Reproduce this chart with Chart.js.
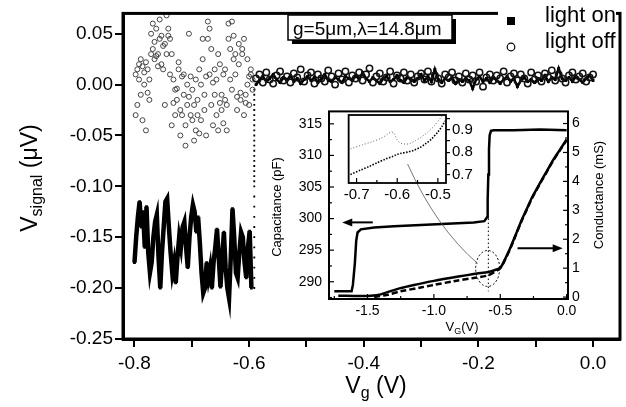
<!DOCTYPE html>
<html>
<head>
<meta charset="utf-8">
<script src="https://cdn.jsdelivr.net/npm/chart.js@4.4.1/dist/chart.umd.min.js"></script>
<style>
  body { margin: 0; background: #fff; }
  #wrap { position: relative; width: 626px; height: 407px; }
  canvas { position: absolute; }
</style>
</head>
<body>
<div id="wrap">
  <canvas id="main" width="626" height="407" style="left:0;top:0"></canvas>
  <canvas id="inset" width="352" height="242" style="left:262px;top:96px"></canvas>
  <canvas id="nest" width="145" height="100" style="left:340px;top:104px"></canvas>
</div>
<script>
// ---- main panel: V_signal vs V_g ----
// light on, below threshold (sampled every 3 mV from -0.800 V)
const onLeftStart = -0.800, onLeftStep = 0.003;
const onLeftY = [
  -0.175,-0.150,-0.130,-0.115,-0.140,-0.125,-0.160,-0.120,-0.165,-0.185,
  -0.175,-0.150,-0.135,-0.128,-0.170,-0.200,-0.165,-0.140,-0.115,-0.112,
  -0.140,-0.165,-0.185,-0.175,-0.195,-0.170,-0.150,-0.160,-0.140,-0.135,
  -0.160,-0.180,-0.150,-0.130,-0.118,-0.125,-0.145,-0.130,-0.155,-0.185,
  -0.205,-0.200,-0.175,-0.190,-0.180,-0.200,-0.175,-0.160,-0.142,-0.170,
  -0.199,-0.170,-0.145,-0.180,-0.200,-0.210,-0.170,-0.122,-0.150,-0.185,
  -0.190,-0.165,-0.145,-0.150,-0.175,-0.190,-0.160,-0.144,-0.200
];
// jump at threshold
const jumpX = -0.591;
const jumpY = [-0.200,-0.190,-0.180,-0.170,-0.160,-0.150,-0.140,-0.130,-0.120,-0.110,
  -0.100,-0.095,-0.090,-0.085,-0.080,-0.075,-0.070,-0.065,-0.060,-0.055,
  -0.050,-0.045,-0.040,-0.035,-0.030,-0.025,-0.020,-0.015,-0.010,-0.005];
// light off, below threshold: two readings per gate step
const offLeftStart = -0.798, offLeftStep = 0.003;
const offLeftA = [
  -0.030, 0.015, 0.020,-0.010, 0.018, 0.000,-0.045,-0.008, 0.005, 0.050,
   0.060, 0.042, 0.055, 0.018, 0.064, 0.048, 0.038, 0.040, 0.068, 0.055,
   0.045,-0.040, 0.005,-0.005,-0.015, 0.022,-0.050,-0.030, 0.010,-0.060,
   0.000, 0.050,-0.030,-0.005,-0.055, 0.005,-0.015, 0.015,-0.035, 0.045,
  -0.010, 0.008, 0.062, 0.055,-0.020, 0.002, 0.015, 0.005,-0.045,-0.018,
  -0.025, 0.010,-0.015,-0.020, 0.060, 0.035, 0.062, 0.025, 0.010,-0.012,
   0.040,-0.008, 0.030,-0.030,-0.018, 0.025, 0.008, 0.010, 0.005
];
const offLeftB = [
   0.010,-0.020, 0.005, 0.025,-0.035, 0.012, 0.022, 0.015,-0.015, 0.030,
   0.035, 0.025, 0.028, 0.030, 0.045, 0.020, 0.015,-0.020, 0.030, 0.048,
   0.010, 0.030,-0.018,-0.030,-0.004, 0.015,-0.025, 0.008,-0.010,-0.040,
  -0.020,-0.012, 0.008,-0.035,-0.020,-0.045,-0.030,-0.048, 0.000, 0.025,
  -0.025,-0.050, 0.045, 0.010, 0.035,-0.040,-0.010,-0.030, 0.030, 0.020,
  -0.010,-0.038, 0.015,-0.045, 0.045, 0.005,-0.005, 0.048, 0.030,-0.025,
   0.020,-0.015, 0.035, 0.045,-0.010, 0.000,-0.020, 0.015,-0.005
];
// above threshold, both nearly zero (every 6 mV from -0.588 V)
const rightStart = -0.588, rightStep = 0.006;
const onRightY = [
  0.000, 0.004, 0.008, 0.003, 0.006, 0.010, 0.005, 0.002, 0.007, 0.004,
  0.009, 0.003, 0.006, 0.001, 0.005, 0.008, 0.004, 0.007, 0.002, 0.006,
  0.010, 0.004, 0.003, 0.007, 0.005, 0.002, 0.008, 0.006, 0.004, 0.009,
  0.005, 0.012, 0.006, 0.003, 0.007, 0.004, 0.001, 0.006, 0.008, 0.003,
  0.005, 0.009, 0.004, 0.002, 0.007, 0.005, 0.003, 0.006, 0.010, 0.004,
  0.008, 0.003, 0.015, 0.005, 0.002, 0.006, 0.004, 0.007, 0.001, 0.005,
  0.003, 0.006, 0.004,-0.004, 0.005, 0.008, 0.003, 0.006, 0.002, 0.007,
  0.004, 0.001, 0.005, 0.008, 0.003, 0.006,-0.002, 0.004, 0.007, 0.003,
  0.005, 0.002, 0.006, 0.004, 0.009, 0.003, 0.007, 0.005, 0.016, 0.006,
  0.004, 0.007, 0.003, 0.008, 0.005, 0.002, 0.006, 0.009, 0.004
];
const offRightY = [
  0.006, 0.010, 0.002, 0.012, 0.005, 0.001, 0.009, 0.013, 0.004, 0.008,
  0.002, 0.011, 0.007, 0.015, 0.003, 0.009, 0.012, 0.001, 0.010, 0.006,
  0.003, 0.014, 0.008, 0.000, 0.011, 0.005, 0.013, 0.002, 0.009, 0.006,
  0.012, 0.004, 0.010, 0.016, 0.002, 0.008, 0.011, 0.003, 0.007, 0.013,
  0.001, 0.009, 0.006, 0.012, 0.004, 0.010, 0.002, 0.008, 0.011, 0.005,
  0.013, 0.003, 0.009, 0.006, 0.001, 0.010, 0.007, 0.012, 0.004, 0.008,
  0.002, 0.011, 0.005, 0.009, 0.003, 0.012,-0.002, 0.007, 0.010, 0.004,
  0.009, 0.006, 0.013, 0.002, 0.008, 0.011, 0.004, 0.010, 0.006, 0.001,
  0.012, 0.005, 0.009, 0.003, 0.011, 0.007, 0.014, 0.004, 0.010, 0.006,
  0.002, 0.009, 0.012, 0.005, 0.008, 0.011, 0.003, 0.007, 0.010
];

// ---- inset: C-V and G-V ----
const capX = [-1.75,-1.62,-1.61,-1.595,-1.585,-1.575,-1.55,-1.45,-1.3,-1.1,-0.9,-0.7,-0.62,-0.6,-0.595,-0.59,-0.585,-0.58,-0.57,-0.55,-0.4,-0.2,0.0];
const capY = [288.5,288.5,289.5,293,296.5,297.8,298.3,298.6,298.8,299.0,299.2,299.4,299.6,300.2,303,307,311,313.2,313.9,314.0,314.0,314.1,314.0];
const condX = [-1.72,-1.6,-1.5,-1.42,-1.35,-1.26,-1.15,-1.0,-0.88,-0.75,-0.65,-0.6,-0.55,-0.5,-0.46,-0.42,-0.38,-0.34,-0.3,-0.26,-0.2,-0.15,-0.1,-0.05,0.0];
const condY = [0.05,0.04,0.04,0.07,0.17,0.3,0.42,0.56,0.66,0.76,0.83,0.86,0.92,1.02,1.35,1.75,2.2,2.65,3.05,3.45,3.95,4.35,4.75,5.1,5.45];
const condDashX = [-1.45,-1.35,-1.25,-1.1,-1.0,-0.85,-0.7,-0.6,-0.55,-0.5,-0.46,-0.42,-0.38,-0.34,-0.3,-0.26,-0.2,-0.15,-0.1,-0.05,0.0];
const condDashY = [0.0,0.08,0.2,0.33,0.42,0.55,0.66,0.74,0.85,1.0,1.33,1.73,2.18,2.63,3.03,3.43,3.93,4.33,4.73,5.08,5.43];

// ---- zoom of the kink near -0.6 V ----
const kinkUpX = [-0.715,-0.69,-0.66,-0.64,-0.625,-0.615,-0.608,-0.6,-0.592,-0.58,-0.57,-0.555,-0.54,-0.525,-0.51,-0.497,-0.488];
const kinkUpY = [0.815,0.83,0.848,0.862,0.878,0.89,0.885,0.855,0.84,0.836,0.838,0.852,0.868,0.89,0.915,0.945,0.965];
const kinkLowX = [-0.715,-0.69,-0.67,-0.65,-0.63,-0.61,-0.6,-0.59,-0.575,-0.56,-0.545,-0.53,-0.515,-0.5,-0.49,-0.482];
const kinkLowY = [0.7,0.72,0.735,0.752,0.768,0.782,0.79,0.795,0.8,0.808,0.82,0.838,0.86,0.89,0.915,0.94];

const FONT = '"Liberation Sans", Arial, sans-serif';
Chart.defaults.font.family = FONT;
Chart.defaults.color = '#000';

const pts = (xs, ys) => xs.map((x, i) => ({ x: x, y: ys[i] }));
const grid = (start, step, n) => Array.from({ length: n }, (_, i) => +(start + i * step).toFixed(4));

// text with subscript parts, centred on (cx, baseline cy)
function richText(ctx, cx, cy, angle, parts) {
  ctx.save();
  ctx.translate(cx, cy);
  ctx.rotate(angle);
  let w = 0;
  parts.forEach(p => { ctx.font = p.size + 'px ' + FONT; p.w = ctx.measureText(p.t).width; w += p.w; });
  let x = -w / 2;
  ctx.fillStyle = '#000';
  ctx.textAlign = 'left';
  ctx.textBaseline = 'alphabetic';
  parts.forEach(p => { ctx.font = p.size + 'px ' + FONT; ctx.fillText(p.t, x, p.dy || 0); x += p.w; });
  ctx.restore();
}

function arrow(ctx, x1, y1, x2, y2) {
  const a = Math.atan2(y2 - y1, x2 - x1);
  ctx.beginPath();
  ctx.moveTo(x1, y1);
  ctx.lineTo(x2 - 8 * Math.cos(a), y2 - 8 * Math.sin(a));
  ctx.stroke();
  ctx.beginPath();
  ctx.moveTo(x2, y2);
  ctx.lineTo(x2 - 10 * Math.cos(a) + 4 * Math.sin(a), y2 - 10 * Math.sin(a) - 4 * Math.cos(a));
  ctx.lineTo(x2 - 10 * Math.cos(a) - 4 * Math.sin(a), y2 - 10 * Math.sin(a) + 4 * Math.cos(a));
  ctx.closePath();
  ctx.fill();
}

function inwardTicks(chart, ids) {
  const ctx = chart.ctx, a = chart.chartArea;
  ctx.save();
  ctx.strokeStyle = '#000';
  ctx.lineWidth = 1.2;
  ids.forEach(id => {
    const s = chart.scales[id];
    s.ticks.forEach(t => {
      const p = s.getPixelForValue(t.value);
      const len = t.label === '' ? 3 : 5;
      ctx.beginPath();
      if (s.position === 'left') { ctx.moveTo(a.left, p); ctx.lineTo(a.left + len, p); }
      else if (s.position === 'right') { ctx.moveTo(a.right, p); ctx.lineTo(a.right - len, p); }
      else { ctx.moveTo(p, a.bottom); ctx.lineTo(p, a.bottom - len); }
      ctx.stroke();
    });
  });
  ctx.restore();
}

// frame, titles, text box and legend of the main panel
const mainDecor = {
  id: 'mainDecor',
  afterDraw(chart) {
    const ctx = chart.ctx, a = chart.chartArea;
    ctx.save();
    ctx.strokeStyle = '#000';
    ctx.lineWidth = 3;
    ctx.strokeRect(a.left, a.top, a.right - a.left, a.bottom - a.top);

    richText(ctx, 376, 393, 0, [{ t: 'V', size: 23 }, { t: 'g', size: 16, dy: 5 }, { t: ' (V)', size: 23 }]);
    richText(ctx, 37, 178, -Math.PI / 2, [{ t: 'V', size: 23 }, { t: 'signal', size: 16, dy: 5 }, { t: ' (\u03bcV)', size: 23 }]);

    // parameter box with drop shadow
    ctx.fillStyle = '#000';
    ctx.fillRect(292, 19, 164, 25);
    ctx.fillStyle = '#fff';
    ctx.fillRect(288, 15, 164, 25);
    ctx.lineWidth = 1.5;
    ctx.strokeRect(288, 15, 164, 25);
    ctx.fillStyle = '#000';
    ctx.font = '19px ' + FONT;
    ctx.textAlign = 'left';
    ctx.textBaseline = 'alphabetic';
    ctx.fillText('g=5\u03bcm,\u03bb=14.8\u03bcm', 293, 35);

    // legend
    ctx.fillStyle = '#fff';
    ctx.fillRect(498, 2, 118, 52);
    ctx.fillStyle = '#000';
    ctx.fillRect(507, 17, 8, 8);
    ctx.beginPath();
    ctx.arc(511, 47, 3.8, 0, Math.PI * 2);
    ctx.lineWidth = 1.2;
    ctx.stroke();
    ctx.font = '22px ' + FONT;
    ctx.fillText('light on', 545, 22);
    ctx.fillText('light off', 545, 48);
    ctx.restore();
  }
};

new Chart(document.getElementById('main'), {
  type: 'scatter',
  data: {
    datasets: [
      { data: pts(grid(offLeftStart, offLeftStep, offLeftA.length), offLeftA), pointStyle: 'circle', pointRadius: 2.5, borderWidth: 1, borderColor: '#444', backgroundColor: 'rgba(0,0,0,0)' },
      { data: pts(grid(offLeftStart, offLeftStep, offLeftB.length), offLeftB), pointStyle: 'circle', pointRadius: 2.5, borderWidth: 1, borderColor: '#444', backgroundColor: 'rgba(0,0,0,0)' },
      { data: pts(grid(rightStart, rightStep, offRightY.length), offRightY), pointStyle: 'circle', pointRadius: 3.2, borderWidth: 1.5, borderColor: '#111', backgroundColor: 'rgba(0,0,0,0)' },
      { data: pts(grid(onLeftStart, onLeftStep, onLeftY.length), onLeftY), showLine: true, borderColor: '#000', borderWidth: 4.5, pointStyle: 'rect', pointRadius: 2, backgroundColor: '#000', pointBorderWidth: 0 },
      { data: pts(jumpY.map(() => jumpX), jumpY), pointStyle: 'rect', pointRadius: 1.3, backgroundColor: '#000', borderWidth: 0 },
      { data: pts(grid(rightStart, rightStep, onRightY.length), onRightY), showLine: true, borderColor: '#000', borderWidth: 2.5, pointStyle: 'rect', pointRadius: 2, backgroundColor: '#000', pointBorderWidth: 0 }
    ]
  },
  options: {
    responsive: false,
    animation: false,
    layout: { padding: { top: 8, right: 6, left: 0, bottom: 0 } },
    plugins: { legend: { display: false }, tooltip: { enabled: false } },
    scales: {
      x: {
        type: 'linear', min: -0.82, max: 0.047,
        afterFit: s => { s.height = 68; },
        border: { color: '#000', width: 3 },
        grid: { drawOnChartArea: false, color: '#000', tickLength: 8, lineWidth: 2 },
        ticks: {
          stepSize: 0.1, autoSkip: false, maxRotation: 0, includeBounds: false, padding: 5,
          font: { size: 19 },
          callback: v => { const r = Math.round(v * 10); return r % 2 === 0 ? (r / 10).toFixed(1) : ''; }
        }
      },
      y: {
        type: 'linear', min: -0.2501, max: 0.07,
        afterFit: s => { s.width = 123; },
        border: { color: '#000', width: 3 },
        grid: { drawOnChartArea: false, color: '#000', tickLength: 8, lineWidth: 2 },
        ticks: {
          stepSize: 0.05, autoSkip: false, includeBounds: false, padding: 2,
          font: { size: 19 },
          callback: v => Math.abs(v) < 1e-9 ? '0.00' : v.toFixed(2)
        }
      }
    }
  },
  plugins: [mainDecor]
});

// inset decorations: frame, inward ticks, titles, arrows, circled kink
const insetDecor = {
  id: 'insetDecor',
  afterDraw(chart) {
    const ctx = chart.ctx, a = chart.chartArea;
    const sx = chart.scales.x, sc = chart.scales.yC, sg = chart.scales.yG;
    ctx.save();
    ctx.strokeStyle = '#000';
    ctx.fillStyle = '#000';
    ctx.lineWidth = 2;
    ctx.strokeRect(a.left, a.top, a.right - a.left, a.bottom - a.top);
    inwardTicks(chart, ['x', 'yC', 'yG']);

    richText(ctx, 19, 111, -Math.PI / 2, [{ t: 'Capacitance (pF)', size: 13 }]);
    richText(ctx, 341, 99, -Math.PI / 2, [{ t: 'Conductance (mS)', size: 13 }]);
    richText(ctx, 200, 235, 0, [{ t: 'V', size: 13 }, { t: 'G', size: 9, dy: 3 }, { t: '(V)', size: 13 }]);

    ctx.lineWidth = 2;
    arrow(ctx, sx.getPixelForValue(-1.46), sc.getPixelForValue(299.4), sx.getPixelForValue(-1.69), sc.getPixelForValue(299.4));
    arrow(ctx, sx.getPixelForValue(-0.37), sg.getPixelForValue(1.69), sx.getPixelForValue(-0.03), sg.getPixelForValue(1.69));

    // dotted marker at the threshold
    ctx.lineWidth = 1;
    ctx.setLineDash([1.5, 2.5]);
    ctx.beginPath();
    ctx.moveTo(sx.getPixelForValue(-0.59), sc.getPixelForValue(300));
    ctx.lineTo(sx.getPixelForValue(-0.59), sg.getPixelForValue(0.2));
    ctx.stroke();
    ctx.setLineDash([2, 2]);
    ctx.beginPath();
    ctx.ellipse(sx.getPixelForValue(-0.595), sg.getPixelForValue(0.99), 12, 18, 0, 0, Math.PI * 2);
    ctx.stroke();

    // leader towards the zoomed panel
    ctx.setLineDash([]);
    ctx.lineWidth = 0.8;
    ctx.strokeStyle = '#555';
    ctx.beginPath();
    ctx.moveTo(sx.getPixelForValue(-1.198), sg.getPixelForValue(4.6));
    ctx.quadraticCurveTo(sx.getPixelForValue(-0.98), sg.getPixelForValue(2.38), sx.getPixelForValue(-0.67), sg.getPixelForValue(1.16));
    ctx.stroke();
    ctx.restore();
  }
};

new Chart(document.getElementById('inset'), {
  type: 'scatter',
  data: {
    datasets: [
      { data: pts(capX, capY), yAxisID: 'yC', showLine: true, borderColor: '#000', borderWidth: 2.5, pointRadius: 0 },
      { data: pts(condDashX, condDashY), yAxisID: 'yG', showLine: true, borderColor: '#000', borderWidth: 2.5, borderDash: [6, 3], pointRadius: 0, tension: 0.3 },
      { data: pts(condX, condY), yAxisID: 'yG', showLine: true, borderColor: '#000', borderWidth: 2.5, pointRadius: 0, tension: 0.3 }
    ]
  },
  options: {
    responsive: false,
    animation: false,
    layout: { padding: { top: 7, right: 0, left: 0, bottom: 0 } },
    plugins: { legend: { display: false }, tooltip: { enabled: false } },
    scales: {
      x: {
        type: 'linear', min: -1.79, max: 0.01,
        afterFit: s => { s.height = 39; },
        border: { display: false },
        grid: { display: false, drawTicks: false },
        ticks: {
          stepSize: 0.25, autoSkip: false, maxRotation: 0, includeBounds: false, padding: 4,
          font: { size: 14 },
          callback: v => { const r = Math.round(v * 4); return r % 2 === 0 ? (r / 4).toFixed(1) : ''; }
        }
      },
      yC: {
        type: 'linear', position: 'left', min: 287.27, max: 316.97,
        afterFit: s => { s.width = 67; },
        border: { display: false },
        grid: { display: false, drawTicks: false },
        ticks: {
          stepSize: 2.5, autoSkip: false, includeBounds: false, padding: 7,
          font: { size: 14 },
          callback: v => { const r = Math.round(v * 2); return r % 10 === 0 ? String(r / 2) : ''; }
        }
      },
      yG: {
        type: 'linear', position: 'right', min: -0.066, max: 6.42,
        afterFit: s => { s.width = 46; },
        border: { display: false },
        grid: { display: false, drawTicks: false },
        ticks: {
          stepSize: 0.5, autoSkip: false, includeBounds: false, padding: 4,
          font: { size: 14 },
          callback: v => { const r = Math.round(v * 2); return r % 2 === 0 ? String(r / 2) : ''; }
        }
      }
    }
  },
  plugins: [insetDecor]
});

const nestDecor = {
  id: 'nestDecor',
  afterDraw(chart) {
    const ctx = chart.ctx, a = chart.chartArea;
    ctx.save();
    ctx.strokeStyle = '#000';
    ctx.lineWidth = 1.8;
    ctx.strokeRect(a.left, a.top, a.right - a.left, a.bottom - a.top);
    ctx.restore();
    inwardTicks(chart, ['x']);
  }
};

new Chart(document.getElementById('nest'), {
  type: 'scatter',
  data: {
    datasets: [
      { data: pts(kinkUpX, kinkUpY), showLine: true, borderColor: '#666', borderWidth: 1, borderDash: [1, 2], pointRadius: 0, tension: 0.3 },
      { data: pts(kinkLowX, kinkLowY), showLine: true, borderColor: '#000', borderWidth: 1.6, borderDash: [1.5, 1.5], pointRadius: 0, tension: 0.3 }
    ]
  },
  options: {
    responsive: false,
    animation: false,
    layout: { padding: { top: 4, right: 0, left: 8, bottom: 0 } },
    plugins: { legend: { display: false }, tooltip: { enabled: false } },
    scales: {
      x: {
        type: 'linear', min: -0.7195, max: -0.48,
        afterFit: s => { s.height = 21; },
        border: { display: false },
        grid: { display: false, drawTicks: false },
        ticks: {
          stepSize: 0.05, autoSkip: false, maxRotation: 0, includeBounds: false, padding: 3,
          font: { size: 15 },
          callback: v => { const r = Math.round(v * 20); return r % 2 === 0 ? (r / 20).toFixed(1) : ''; }
        }
      },
      y: {
        type: 'linear', position: 'right', min: 0.662, max: 0.966,
        afterFit: s => { s.width = 39; },
        border: { display: false },
        grid: { drawOnChartArea: false, color: '#000', tickLength: 4, lineWidth: 1.2 },
        ticks: {
          stepSize: 0.05, autoSkip: false, includeBounds: false, padding: 2,
          font: { size: 15 },
          callback: v => { const r = Math.round(v * 20); return r % 2 === 0 ? (r / 20).toFixed(1) : ''; }
        }
      }
    }
  },
  plugins: [nestDecor]
});
</script>
</body>
</html>
